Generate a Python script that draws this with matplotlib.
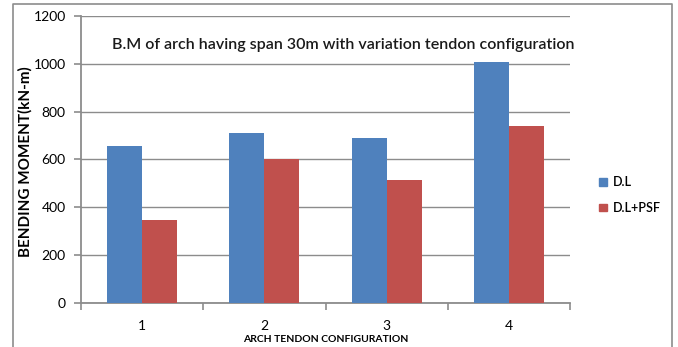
import matplotlib
matplotlib.use("Agg")
import matplotlib.pyplot as plt
from matplotlib.lines import Line2D
from matplotlib.patches import Patch
import numpy as np

categories = ["1", "2", "3", "4"]
dead_load = [657, 712, 691, 1007]
dead_load_psf = [348, 600, 514, 740]
series_names = ["D.L", "D.L+PSF"]
y_ticks = [0, 200, 400, 600, 800, 1000, 1200]

plt.rcParams["font.family"] = ["Lato", "DejaVu Sans"]

W, H = 678, 347
fig = plt.figure(figsize=(W / 100, H / 100), dpi=100)
ax = fig.add_axes([81 / W, 1 - 303 / H, (570 - 81) / W, (303 - 16) / H])

x = np.arange(len(categories))
w = 1 / 3.5
blue = "#4F81BD"
red = "#C0504D"
ax.bar(x - w / 2, dead_load, width=w, color=blue, zorder=3)
ax.bar(x + w / 2, dead_load_psf, width=w, color=red, zorder=3)

ax.set_xlim(-0.5, len(categories) - 0.5)
ax.set_ylim(0, 1200)
ax.set_yticks(y_ticks)
ax.set_yticklabels([str(v) for v in y_ticks], fontsize=10)
ax.yaxis.grid(True, color="#8c8c8c", linewidth=1.0, zorder=0)

# category labels at centres, tick marks at category boundaries
ax.set_xticks(np.arange(-0.5, len(categories)), minor=False)
ax.set_xticklabels([])
ax.set_xticks(x, minor=True)
ax.set_xticklabels(categories, minor=True, fontsize=10)
ax.tick_params(axis="x", which="major", length=5, color="#8c8c8c", width=1.2)
ax.tick_params(axis="x", which="minor", length=0, pad=12)
ax.tick_params(axis="y", length=5, color="#8c8c8c", width=1.2, pad=6)

for s in ["top", "right"]:
    ax.spines[s].set_visible(False)
for s in ["left", "bottom"]:
    ax.spines[s].set_color("#8c8c8c")
    ax.spines[s].set_linewidth(1.3)

fig.text(343 / W, 1 - 45 / H, "B.M of arch having span 30m with variation tendon configuration",
         ha="center", va="center", fontsize=11.5, fontweight="semibold", color="#1a1a1a")
fig.text(25 / W, 1 - 162 / H, "BENDING MOMENT(kN-m)", rotation=90, ha="center", va="center",
         fontsize=11, fontweight="bold")
fig.text(326 / W, 1 - 340 / H, "ARCH TENDON CONFIGURATION", ha="center", va="center",
         fontsize=7.5, fontweight="bold")

handles = [Patch(color=blue), Patch(color=red)]
fig.legend(handles, series_names, loc="center left", bbox_to_anchor=(588 / W, 1 - 195 / H),
           frameon=False, fontsize=9, handlelength=0.6, handleheight=0.6, handletextpad=0.5,
           labelspacing=1.1, prop={"weight": "semibold", "size": 9})

# outer chart frame (left, top, right)
fx0, fx1, fy = 12.5 / W, 672 / W, 1 - 4 / H
fig.add_artist(Line2D([fx0, fx0, fx1, fx1], [0, fy, fy, 0], transform=fig.transFigure,
                      color="#8c8c8c", linewidth=1.2))

fig.savefig("out.png", dpi=100)
